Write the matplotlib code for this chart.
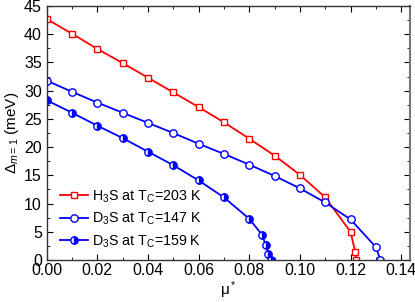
import numpy as np
import matplotlib
matplotlib.use('Agg')
import matplotlib.pyplot as plt

plt.rcParams['font.family'] = ['Liberation Sans', 'DejaVu Sans']
plt.rcParams['mathtext.fontset'] = 'custom'
plt.rcParams['mathtext.rm'] = 'Liberation Sans'
plt.rcParams['mathtext.it'] = 'Liberation Sans:italic'

# data
mu_h3s = [0.00, 0.01, 0.02, 0.03, 0.04, 0.05, 0.06, 0.07, 0.08, 0.09, 0.10, 0.11, 0.12, 0.1219, 0.1223]
gap_h3s = [42.7, 40.1, 37.4, 34.9, 32.3, 29.7, 27.1, 24.4, 21.5, 18.5, 15.1, 11.1, 5.0, 1.4, 0.0]

mu_d3s_147 = [0.00, 0.01, 0.02, 0.03, 0.04, 0.05, 0.06, 0.07, 0.08, 0.09, 0.10, 0.11, 0.12, 0.13, 0.1318]
gap_d3s_147 = [31.8, 29.8, 27.9, 26.1, 24.3, 22.5, 20.6, 18.8, 16.9, 14.9, 12.7, 10.2, 7.2, 2.3, 0.0]

mu_d3s_159 = [0.00, 0.01, 0.02, 0.03, 0.04, 0.05, 0.06, 0.07, 0.08, 0.085, 0.0866, 0.0876, 0.0884]
gap_d3s_159 = [28.3, 26.1, 23.8, 21.6, 19.2, 16.8, 14.1, 11.1, 7.3, 4.5, 2.6, 1.0, 0.0]

labels = [r'H$_3$S at T$_\mathrm{C}$=203 K',
          r'D$_3$S at T$_\mathrm{C}$=147 K',
          r'D$_3$S at T$_\mathrm{C}$=159 K']

fig = plt.figure(figsize=(4.15, 3.02), dpi=100)
ax = fig.add_axes([0.1125, 0.139, 0.8755, 0.841])

ax.plot(mu_h3s, gap_h3s, '-', color='red', lw=1.3, marker='s', ms=5,
        mfc='white', mec='red', mew=1.0, label=labels[0])
ax.plot(mu_d3s_147, gap_d3s_147, '-', color='blue', lw=1.3, marker='o', ms=5.3,
        mfc='white', mec='blue', mew=1.0, label=labels[1])
ax.plot(mu_d3s_159, gap_d3s_159, '-', color='blue', lw=1.3, marker='o', ms=5.3,
        fillstyle='right', mfc='blue', mfcalt='white', mec='blue', mew=1.0,
        label=labels[2])

ax.set_xlim(0, 0.1435)
ax.set_ylim(0, 45)
ax.set_xticks(np.arange(0, 0.141, 0.02))
ax.set_xticks(np.arange(0, 0.1435, 0.01), minor=True)
ax.set_yticks(np.arange(0, 46, 5))
ax.set_yticks(np.arange(0, 45.1, 2.5), minor=True)
ax.xaxis.set_major_formatter(matplotlib.ticker.FormatStrFormatter('%.2f'))

ax.tick_params(which='both', direction='in', top=True, right=True, labelsize=11.5)
ax.tick_params(which='major', length=4)
ax.tick_params(which='minor', length=2)
ax.tick_params(axis='x', pad=2)
for s in ax.spines.values():
    s.set_color('#333333')
    s.set_linewidth(1.0)
ax.spines['right'].set_color('#777777')
ax.spines['right'].set_linewidth(1.5)

ax.set_xlabel(r'$\mathrm{\mu}^*$', fontsize=11, labelpad=1)
ax.set_ylabel(r'$\Delta_{m=1}$ (meV)', fontsize=11, labelpad=2)

ax.legend(loc='lower left', bbox_to_anchor=(0.0, -0.01), frameon=False,
          fontsize=10.3, handlelength=2.0, handletextpad=0.3, labelspacing=0.42,
          borderaxespad=0.5)

fig.savefig('out.png', dpi=100)
